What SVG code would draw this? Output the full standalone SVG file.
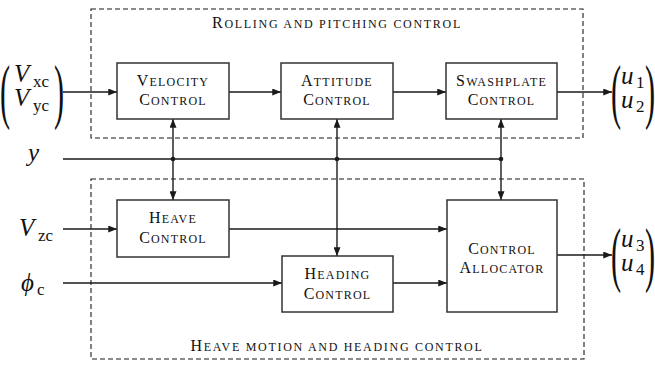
<svg xmlns="http://www.w3.org/2000/svg" width="655" height="368" viewBox="0 0 655 368" font-family="Liberation Serif, serif">
<defs>
<marker id="ah" viewBox="0 0 10 8" refX="10" refY="4" markerWidth="10" markerHeight="7" markerUnits="userSpaceOnUse" orient="auto">
<path d="M0,0 L10,4 L0,8 Z" fill="#1a1a1a"/>
</marker>
</defs>
<style>
.frame{fill:none;stroke:#1a1a1a;stroke-width:1.1;stroke-dasharray:5,3}
.box{fill:#fff;stroke:#333;stroke-width:1.5}
.sc{font-family:"Liberation Serif", "Times New Roman", serif;fill:#111;text-anchor:middle;letter-spacing:1.2px}
.ttl{letter-spacing:1.7px}
.big{font-size:16px}
.sm{font-size:12px}
.ln{fill:none;stroke:#1a1a1a;stroke-width:1.4}
.ar{marker-end:url(#ah)}
.m{font-family:"Liberation Serif", "Times New Roman", serif;font-style:italic;font-size:25px;fill:#111}
.sub{font-family:"Liberation Serif", "Times New Roman", serif;font-style:normal;font-size:17px;fill:#111}
.par{font-family:"Liberation Serif", "Times New Roman", serif;font-size:72px;fill:#111}
</style>
<g id="frame-top">
<rect class="frame" x="91" y="9" width="492" height="129"/>
<text class="sc ttl" x="337" y="28"><tspan class="big">R</tspan><tspan class="sm">OLLING AND PITCHING CONTROL</tspan></text>
</g>
<g id="frame-bottom">
<rect class="frame" x="91" y="179" width="493" height="180"/>
<text class="sc ttl" x="337" y="351"><tspan class="big">H</tspan><tspan class="sm">EAVE MOTION AND HEADING CONTROL</tspan></text>
</g>
<g id="connectors">
<line class="ln ar" x1="63" y1="92" x2="117" y2="92"/>
<line class="ln ar" x1="229" y1="92" x2="281" y2="92"/>
<line class="ln ar" x1="393" y1="92" x2="446" y2="92"/>
<line class="ln ar" x1="557" y1="92" x2="612" y2="92"/>
<line class="ln" x1="63" y1="159" x2="501" y2="159"/>
<line class="ln ar" x1="173" y1="159" x2="173" y2="119"/>
<line class="ln ar" x1="173" y1="159" x2="173" y2="200"/>
<line class="ln ar" x1="337" y1="159" x2="337" y2="119"/>
<line class="ln ar" x1="337" y1="159" x2="337" y2="256"/>
<line class="ln ar" x1="501" y1="159" x2="501" y2="119"/>
<line class="ln ar" x1="501" y1="159" x2="501" y2="200"/>
<circle cx="173" cy="159" r="2.3" fill="#1a1a1a"/>
<circle cx="337" cy="159" r="2.3" fill="#1a1a1a"/>
<circle cx="501" cy="159" r="2.3" fill="#1a1a1a"/>
<line class="ln ar" x1="63" y1="229" x2="117" y2="229"/>
<line class="ln ar" x1="229" y1="229" x2="447" y2="229"/>
<line class="ln ar" x1="63" y1="283" x2="282" y2="283"/>
<line class="ln ar" x1="393" y1="283" x2="447" y2="283"/>
<line class="ln ar" x1="557" y1="255" x2="612" y2="255"/>
</g>
<g id="velocity">
<rect class="box" x="117" y="63" width="112" height="56"/>
<text class="sc" x="173" y="86"><tspan class="big">V</tspan><tspan class="sm">ELOCITY</tspan></text>
<text class="sc" x="173" y="105"><tspan class="big">C</tspan><tspan class="sm">ONTROL</tspan></text>
</g>
<g id="attitude">
<rect class="box" x="281" y="63" width="112" height="56"/>
<text class="sc" x="337" y="86"><tspan class="big">A</tspan><tspan class="sm">TTITUDE</tspan></text>
<text class="sc" x="337" y="105"><tspan class="big">C</tspan><tspan class="sm">ONTROL</tspan></text>
</g>
<g id="swashplate">
<rect class="box" x="446" y="63" width="111" height="56"/>
<text class="sc" x="501.5" y="86"><tspan class="big">S</tspan><tspan class="sm">WASHPLATE</tspan></text>
<text class="sc" x="501.5" y="105"><tspan class="big">C</tspan><tspan class="sm">ONTROL</tspan></text>
</g>
<g id="heave">
<rect class="box" x="117" y="200" width="112" height="57"/>
<text class="sc" x="173" y="223"><tspan class="big">H</tspan><tspan class="sm">EAVE</tspan></text>
<text class="sc" x="173" y="243"><tspan class="big">C</tspan><tspan class="sm">ONTROL</tspan></text>
</g>
<g id="heading">
<rect class="box" x="282" y="256" width="111" height="56"/>
<text class="sc" x="337.5" y="279"><tspan class="big">H</tspan><tspan class="sm">EADING</tspan></text>
<text class="sc" x="337.5" y="299"><tspan class="big">C</tspan><tspan class="sm">ONTROL</tspan></text>
</g>
<g id="allocator">
<rect class="box" x="447" y="200" width="110" height="112"/>
<text class="sc" x="502" y="254"><tspan class="big">C</tspan><tspan class="sm">ONTROL</tspan></text>
<text class="sc" x="502" y="273"><tspan class="big">A</tspan><tspan class="sm">LLOCATOR</tspan></text>
</g>
<g id="input-vxy">
<text class="par" transform="translate(0,115) scale(0.42,1)">(</text>
<text class="m" x="14" y="82">V</text><text class="sub" x="33" y="87">xc</text>
<text class="m" x="14" y="106">V</text><text class="sub" x="33" y="111">yc</text>
<text class="par" transform="translate(54,115) scale(0.42,1)">)</text>
</g>
<g id="input-y"><text class="m" x="28" y="161">y</text></g>
<g id="input-vz"><text class="m" x="19" y="236">V</text><text class="sub" x="38" y="241">zc</text></g>
<g id="input-phi"><text class="m" x="21" y="291">ϕ</text><text class="sub" x="37" y="295">c</text></g>
<g id="output-u12">
<text class="par" transform="translate(611,115) scale(0.42,1)">(</text>
<text class="m" x="621" y="84">u</text><text class="sub" x="636" y="88">1</text>
<text class="m" x="621" y="108">u</text><text class="sub" x="636" y="112">2</text>
<text class="par" transform="translate(645,115) scale(0.42,1)">)</text>
</g>
<g id="output-u34">
<text class="par" transform="translate(611,278) scale(0.42,1)">(</text>
<text class="m" x="621" y="247">u</text><text class="sub" x="636" y="251">3</text>
<text class="m" x="621" y="271">u</text><text class="sub" x="636" y="275">4</text>
<text class="par" transform="translate(645,278) scale(0.42,1)">)</text>
</g>
</svg>
